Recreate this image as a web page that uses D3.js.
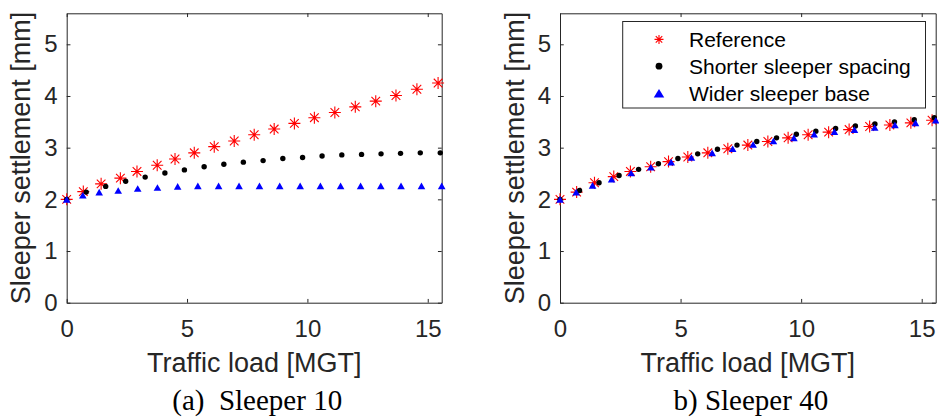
<!DOCTYPE html>
<html>
<head>
<meta charset="utf-8">
<script src="https://cdn.jsdelivr.net/npm/d3@7"></script>
<style>
  html, body { margin: 0; padding: 0; background: #fff; }
  svg { display: block; }
  text { font-family: "Liberation Sans", Arial, sans-serif; }
  .caption { font-family: "Liberation Serif", "Times New Roman", serif; white-space: pre; }
</style>
</head>
<body>
<svg id="chart" width="939" height="418"></svg>
<script>
// ---------- data ----------
const seriesNames = ["Reference", "Shorter sleeper spacing", "Wider sleeper base"];
const panelTitles = ["(a)  Sleeper 10", "b) Sleeper 40"];

// traffic load [MGT] at which each series was sampled
const xRef     = [0, 0.69, 1.43, 2.23, 2.92, 3.76, 4.50, 5.30, 6.13, 6.96, 7.79, 8.62, 9.46, 10.29, 11.14, 11.99, 12.84, 13.68, 14.55, 15.43];
const xSpacing = [0, 0.81, 1.62, 2.45, 3.26, 4.08, 4.89, 5.71, 6.53, 7.34, 8.16, 8.98, 9.80, 10.61, 11.43, 12.25, 13.06, 13.87, 14.69, 15.52];
const xBase    = [0, 0.67, 1.35, 2.14, 2.95, 3.77, 4.61, 5.45, 6.31, 7.16, 8.01, 8.85, 9.70, 10.54, 11.38, 12.21, 13.05, 13.89, 14.74, 15.58];

// Sleeper 10 settlement [mm]
const ref10     = [2.00, 2.15, 2.30, 2.41, 2.54, 2.66, 2.78, 2.90, 3.02, 3.13, 3.25, 3.36, 3.47, 3.58, 3.68, 3.79, 3.90, 4.01, 4.13, 4.25];
const spacing10 = [2.00, 2.14, 2.25, 2.35, 2.43, 2.51, 2.57, 2.63, 2.68, 2.72, 2.75, 2.79, 2.81, 2.84, 2.86, 2.87, 2.88, 2.89, 2.90, 2.90];
const base10    = [2.00, 2.08, 2.14, 2.17, 2.21, 2.23, 2.25, 2.26, 2.26, 2.26, 2.26, 2.26, 2.26, 2.26, 2.26, 2.26, 2.26, 2.26, 2.26, 2.26];

// Sleeper 40 settlement [mm]
const ref40     = [2.00, 2.14, 2.32, 2.44, 2.54, 2.63, 2.73, 2.82, 2.90, 2.98, 3.05, 3.12, 3.19, 3.25, 3.30, 3.35, 3.41, 3.44, 3.48, 3.53];
const spacing40 = [2.00, 2.17, 2.32, 2.46, 2.58, 2.69, 2.79, 2.88, 2.97, 3.05, 3.12, 3.19, 3.26, 3.32, 3.37, 3.42, 3.46, 3.50, 3.54, 3.58];
const base40    = [2.00, 2.14, 2.27, 2.39, 2.51, 2.62, 2.72, 2.81, 2.90, 2.98, 3.06, 3.13, 3.19, 3.26, 3.31, 3.35, 3.39, 3.44, 3.48, 3.53];

const xTicks = [0, 5, 10, 15];
const yTicks = [0, 1, 2, 3, 4, 5];
const xDomain = [0, 15.58];
const yDomain = [0, 5.6];

// ---------- drawing ----------
const svg = d3.select("#chart");
const axisColor = "#262626";
const plotTop = 13.3, plotBottom = 302.7;
const panels = [
  { left: 66.7, right: 441.7, data: [ref10, spacing10, base10], title: panelTitles[0], legend: false },
  { left: 560,  right: 935.7, data: [ref40, spacing40, base40], title: panelTitles[1], legend: true }
];
const xs = [xRef, xSpacing, xBase];

function asteriskPath(cx, cy, s) {
  const d = s * 0.72;
  return `M${cx - s},${cy}H${cx + s}M${cx},${cy - s}V${cy + s}` +
         `M${cx - d},${cy - d}L${cx + d},${cy + d}M${cx - d},${cy + d}L${cx + d},${cy - d}`;
}
function trianglePath(cx, cy, w, h) {
  return `M${cx - w / 2},${cy + h / 2}L${cx + w / 2},${cy + h / 2}L${cx},${cy - h / 2}Z`;
}

function drawMarkers(g, kind, pts, big) {
  if (kind === 0) {
    g.selectAll(null).data(pts).join("path")
      .attr("d", p => asteriskPath(p[0], p[1], big ? 4.5 : 6))
      .attr("fill", "none").attr("stroke", "#ff0000").attr("stroke-width", 1.1);
  } else if (kind === 1) {
    g.selectAll(null).data(pts).join("circle")
      .attr("cx", p => p[0]).attr("cy", p => p[1]).attr("r", big ? 3.4 : 2.7)
      .attr("fill", "#000");
  } else {
    g.selectAll(null).data(pts).join("path")
      .attr("d", p => big ? trianglePath(p[0], p[1], 10.5, 8.5) : trianglePath(p[0], p[1], 7.6, 6.6))
      .attr("fill", "#0000ff");
  }
}

panels.forEach(P => {
  const x = d3.scaleLinear().domain(xDomain).range([P.left, P.right]);
  const y = d3.scaleLinear().domain(yDomain).range([plotBottom, plotTop]);
  const g = svg.append("g");

  // axes (ticks inward, box on)
  const axB = g.append("g").attr("transform", `translate(0,${plotBottom})`)
    .call(d3.axisBottom(x).tickValues(xTicks).tickFormat(d3.format("d"))
      .tickSizeInner(-3.75).tickSizeOuter(0).tickPadding(16.8));
  const axT = g.append("g").attr("transform", `translate(0,${plotTop})`)
    .call(d3.axisTop(x).tickValues(xTicks).tickFormat("")
      .tickSizeInner(-3.75).tickSizeOuter(0));
  const axL = g.append("g").attr("transform", `translate(${P.left},0)`)
    .call(d3.axisLeft(y).tickValues(yTicks).tickFormat(d3.format("d"))
      .tickSizeInner(-3.75).tickSizeOuter(0).tickPadding(9));
  const axR = g.append("g").attr("transform", `translate(${P.right},0)`)
    .call(d3.axisRight(y).tickValues(yTicks).tickFormat("")
      .tickSizeInner(-3.75).tickSizeOuter(0));
  [axB, axT, axL, axR].forEach(a => {
    a.selectAll(".domain").attr("stroke", axisColor).attr("stroke-width", 1);
    a.selectAll(".tick line").attr("stroke", axisColor).attr("stroke-width", 1);
    a.selectAll("text").attr("fill", axisColor).attr("font-size", 24)
      .attr("font-family", "Liberation Sans, Arial, sans-serif");
  });

  // data markers: reference, shorter spacing, wider base
  P.data.forEach((vals, k) => {
    const pts = vals.map((v, i) => [x(xs[k][i]), y(v)]);
    drawMarkers(g.append("g"), k, pts, false);
  });

  // axis labels
  g.append("text")
    .attr("x", (P.left + P.right) / 2).attr("y", 371.7)
    .attr("text-anchor", "middle").attr("font-size", 27).attr("fill", axisColor)
    .text("Traffic load [MGT]");
  g.append("text")
    .attr("transform", `translate(${P.left - 36.5},${(plotTop + plotBottom) / 2}) rotate(-90)`)
    .attr("text-anchor", "middle").attr("font-size", 27).attr("fill", axisColor)
    .text("Sleeper settlement [mm]");

  // caption
  g.append("text").attr("class", "caption")
    .attr("x", (P.left + P.right) / 2 + 3).attr("y", 410)
    .attr("text-anchor", "middle").attr("font-size", 29).attr("fill", "#000")
    .text(P.title);

  // legend
  if (P.legend) {
    const lg = g.append("g");
    lg.append("rect").attr("x", 622.7).attr("y", 21.5).attr("width", 302.8).attr("height", 86.5)
      .attr("fill", "#fff").attr("stroke", axisColor).attr("stroke-width", 1);
    const baselines = [46.7, 73.5, 100.5];
    seriesNames.forEach((name, k) => {
      drawMarkers(lg.append("g"), k, [[659, baselines[k] - 7.3]], true);
      lg.append("text").attr("x", 689).attr("y", baselines[k])
        .attr("font-size", 21).attr("fill", "#000").text(name);
    });
  }
});
</script>
</body>
</html>
